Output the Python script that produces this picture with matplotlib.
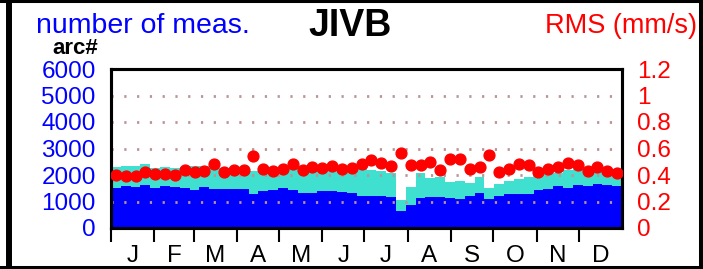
import numpy as np
import matplotlib.pyplot as plt
from matplotlib.lines import Line2D

plt.rcParams['font.family'] = ['Liberation Sans', 'DejaVu Sans']

# weekly number of measurements (all / used) and weekly RMS
total_meas = [2315, 2352, 2352, 2403, 2277, 2290, 2264, 2315, 2327, 2340, 2264, 2264, 2252,
              2290, 2150, 2300, 2290, 2290, 2280, 2270, 2260, 2280, 2280, 2270, 2260, 2250,
              2189, 2160, 2090, 1050, 1550, 2063, 1874, 1937, 1750, 1786, 1700, 1911, 1500,
              1650, 1786, 1860, 1940, 2000, 2040, 2080, 2200, 2230, 2220, 2240, 2230, 2220]
used_meas = [1520, 1598, 1560, 1623, 1520, 1585, 1548, 1497, 1434, 1560, 1484, 1459, 1459,
             1459, 1300, 1396, 1434, 1497, 1450, 1308, 1310, 1396, 1380, 1346, 1308, 1220,
             1207, 1190, 1157, 650, 850, 1144, 1182, 1170, 1144, 1082, 1200, 1308, 1100,
             1210, 1300, 1290, 1280, 1440, 1460, 1580, 1520, 1610, 1600, 1650, 1610, 1585]
rms = [0.40, 0.395, 0.395, 0.42, 0.41, 0.41, 0.40, 0.44, 0.42, 0.43, 0.48, 0.42, 0.44,
       0.44, 0.545, 0.445, 0.432, 0.448, 0.483, 0.438, 0.463, 0.453, 0.468, 0.443, 0.45, 0.48,
       0.513, 0.493, 0.468, 0.563, 0.475, 0.473, 0.50, 0.438, 0.523, 0.523, 0.443, 0.458, 0.551,
       0.423, 0.443, 0.483, 0.478, 0.423, 0.448, 0.458, 0.488, 0.473, 0.428, 0.458, 0.433, 0.418]

months = ['J', 'F', 'M', 'A', 'M', 'J', 'J', 'A', 'S', 'O', 'N', 'D']
month_days = [31, 28, 31, 30, 31, 30, 31, 31, 30, 31, 30, 31]

month_start = np.concatenate([[0], np.cumsum(month_days)[:-1]])
month_mid = month_start + np.array(month_days) / 2
edges = np.linspace(0, 365, len(rms) + 1)
centers = (edges[:-1] + edges[1:]) / 2

fig = plt.figure(figsize=(7.03, 2.69), dpi=100)
ax = fig.add_axes([111 / 703, 1 - 228 / 269, 511 / 703, 159 / 269])
ax2 = ax.twinx()

ax.stairs(total_meas, edges, fill=True, color='turquoise', zorder=1)
ax.stairs(used_meas, edges, fill=True, color='blue', zorder=1.5)
for g in [1000, 2000, 3000, 4000, 5000]:
    ax.axhline(g, color='#bc9494', lw=2, linestyle=(0, (0.8, 3.8)), zorder=2)

ax2.plot(centers, rms, 'o', color='red', markersize=7.8, zorder=3)

ax.set_xlim(0, 365)
ax.set_ylim(0, 6000)
ax2.set_ylim(0, 1.2)

ax.set_yticks([0, 1000, 2000, 3000, 4000, 5000, 6000])
ax2.set_yticks([0, 0.2, 0.4, 0.6, 0.8, 1.0, 1.2])
ax2.set_yticklabels(['0', '0.2', '0.4', '0.6', '0.8', '1', '1.2'])
ax.tick_params(axis='y', length=0, pad=11, labelsize=17.5, labelcolor='blue')
ax2.tick_params(axis='y', length=0, pad=11, labelsize=17.5, labelcolor='red')

ax.set_xticks(month_start)
ax.set_xticklabels([])
ax.set_xticks(month_mid, minor=True)
ax.set_xticklabels(months, minor=True)
ax.tick_params(axis='x', which='major', length=10, width=1.5, direction='out')
ax.tick_params(axis='x', which='minor', length=0, pad=12.5, labelsize=17.5)

for a in (ax, ax2):
    for s in a.spines.values():
        s.set_linewidth(2.2)

fig.text(36 / 703, 1 - 33 / 269, 'number of meas.', color='blue', fontsize=20.5,
         ha='left', va='baseline')
fig.text(697 / 703, 1 - 33 / 269, 'RMS (mm/s)', color='red', fontsize=19.5,
         ha='right', va='baseline')
fig.text(350 / 703, 1 - 36 / 269, 'JIVB', color='black', fontsize=27,
         fontweight='bold', ha='center', va='baseline')
fig.text(52 / 703, 1 - 54 / 269, 'arc#', color='black', fontsize=16,
         fontweight='bold', ha='left', va='baseline')

# frame around the whole picture
fig.add_artist(Line2D([9 / 703, 9 / 703], [0, 1], color='black', lw=4.3))
fig.add_artist(Line2D([0, 1], [1 - 1.3 / 269, 1 - 1.3 / 269], color='black', lw=2.2))
fig.add_artist(Line2D([701 / 703, 701 / 703], [0, 1], color='black', lw=2.9))
fig.add_artist(Line2D([0, 1], [1.5 / 269, 1.5 / 269], color='black', lw=2.9))

fig.savefig('out.png', dpi=100)
